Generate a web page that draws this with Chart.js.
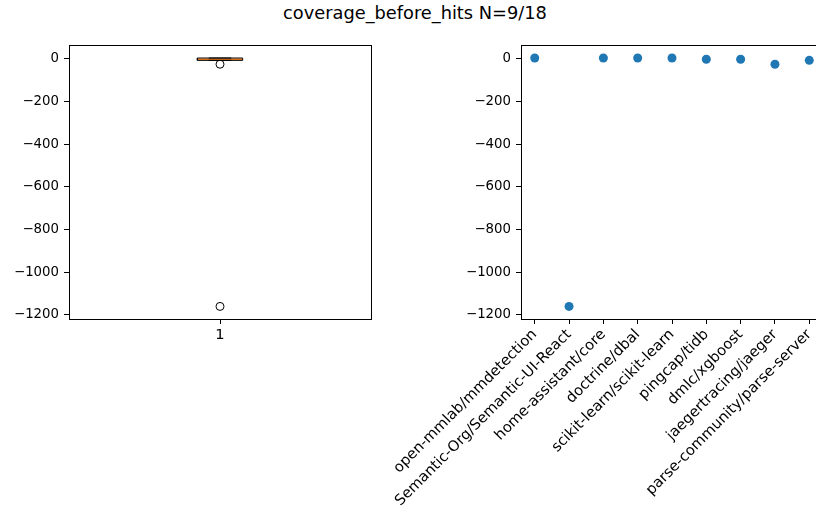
<!DOCTYPE html>
<html>
<head>
<meta charset="utf-8">
<script src="https://cdn.jsdelivr.net/npm/chart.js@4/dist/chart.umd.min.js"></script>
<style>
  html, body { margin: 0; padding: 0; background: #fff; width: 816px; height: 507px; overflow: hidden; }
  #title { position: absolute; left: 0; width: 830px; top: 4px; text-align: center;
           font-family: 'DejaVu Sans', sans-serif; font-size: 17.8px; line-height: 17.8px; color: #000; }
  #c1 { position: absolute; left: 0; top: 0; }
  #c2 { position: absolute; left: 360px; top: 0; }
</style>
</head>
<body>
<div id="title">coverage_before_hits N=9/18</div>
<canvas id="c1" width="400" height="507"></canvas>
<canvas id="c2" width="480" height="507"></canvas>
<script>
// ---- data ----
const repos = [
  'open-mmlab/mmdetection',
  'Semantic-Org/Semantic-UI-React',
  'home-assistant/core',
  'doctrine/dbal',
  'scikit-learn/scikit-learn',
  'pingcap/tidb',
  'dmlc/xgboost',
  'jaegertracing/jaeger',
  'parse-community/parse-server'
];
const values = [4, -1160, 4, 4, 4, -2, -2, -25, -7];
const yTicks = [0, -200, -400, -600, -800, -1000, -1200];
const boxTickLabels = ['1'];
const yMin = -1219, yMax = 65;

// ---- box statistics (matplotlib style) ----
function quantile(sorted, q) {
  const pos = (sorted.length - 1) * q;
  const lo = Math.floor(pos), hi = Math.ceil(pos);
  return sorted[lo] + (sorted[hi] - sorted[lo]) * (pos - lo);
}
const sorted = values.slice().sort((a, b) => a - b);
const q1 = quantile(sorted, 0.25), med = quantile(sorted, 0.5), q3 = quantile(sorted, 0.75);
const iqr = q3 - q1;
const loFence = q1 - 1.5 * iqr, hiFence = q3 + 1.5 * iqr;
const inside = sorted.filter(v => v >= loFence && v <= hiFence);
const wLo = Math.min(...inside), wHi = Math.max(...inside);
const fliers = sorted.filter(v => v < loFence || v > hiFence);
const bw = 0.15, cw = bw / 2, pos = 1;

Chart.defaults.font.family = "'DejaVu Sans', sans-serif";
Chart.defaults.font.size = 13.3;
Chart.defaults.color = '#000';

const framePlugin = {
  id: 'frame',
  afterDraw(chart) {
    const a = chart.chartArea, c = chart.ctx;
    c.save();
    c.strokeStyle = '#000';
    c.lineWidth = 1;
    c.strokeRect(Math.round(a.left) + 0.5, Math.round(a.top) + 0.5,
                 Math.round(a.right - a.left), Math.round(a.bottom - a.top));
    c.restore();
  }
};

function fmt(v) { return v < 0 ? '\u2212' + Math.abs(v) : String(v); }

function yScale(width) {
  return {
    type: 'linear', min: yMin, max: yMax,
    afterBuildTicks: s => { s.ticks = yTicks.map(v => ({ value: v })); },
    afterFit: s => { s.width = width; },
    ticks: { callback: v => fmt(v), padding: 5, color: '#000' },
    grid: { drawOnChartArea: false, drawTicks: true, tickLength: 5, tickColor: '#000', tickWidth: 1 },
    border: { display: true, color: '#000', width: 1 }
  };
}

const seg = (pts, color, w) => ({
  type: 'line', data: pts, borderColor: color, borderWidth: w,
  pointRadius: 0, fill: false, tension: 0
});

new Chart(document.getElementById('c1'), {
  type: 'scatter',
  data: {
    datasets: [
      seg([{x: pos - bw / 2, y: q1}, {x: pos + bw / 2, y: q1}, {x: pos + bw / 2, y: q3},
           {x: pos - bw / 2, y: q3}, {x: pos - bw / 2, y: q1}], '#000', 1),
      seg([{x: pos, y: q1}, {x: pos, y: wLo}], '#000', 1),
      seg([{x: pos, y: q3}, {x: pos, y: wHi}], '#000', 1),
      seg([{x: pos - cw / 2, y: wLo}, {x: pos + cw / 2, y: wLo}], '#000', 1),
      seg([{x: pos - cw / 2, y: wHi}, {x: pos + cw / 2, y: wHi}], '#000', 1),
      seg([{x: pos - bw / 2, y: med}, {x: pos + bw / 2, y: med}], '#ff7f0e', 1.5),
      { type: 'scatter', data: fliers.map(v => ({x: pos, y: v})), pointRadius: 4,
        pointBackgroundColor: 'rgba(0,0,0,0)', pointBorderColor: '#000', pointBorderWidth: 1 }
    ]
  },
  options: {
    responsive: false, animation: false,
    layout: { padding: { top: 45, right: 29, left: 0, bottom: 0 } },
    plugins: { legend: { display: false }, tooltip: { enabled: false } },
    scales: {
      x: {
        type: 'linear', min: 0.5, max: 1.5,
        afterBuildTicks: s => { s.ticks = [{ value: pos }]; },
        afterFit: s => { s.height = 188; s.paddingLeft = 0; s.paddingRight = 0; },
        ticks: { callback: (v, i) => boxTickLabels[i], padding: 2, maxRotation: 0, color: '#000',
                 font: { size: 14.7 } },
        grid: { drawOnChartArea: false, drawTicks: true, tickLength: 5, tickColor: '#000', tickWidth: 1 },
        border: { display: true, color: '#000', width: 1 }
      },
      y: yScale(69)
    }
  },
  plugins: [framePlugin]
});

new Chart(document.getElementById('c2'), {
  type: 'scatter',
  data: {
    datasets: [{
      data: values.map((v, i) => ({x: i, y: v})),
      pointRadius: 4.5, pointBackgroundColor: '#1f77b4', pointBorderColor: '#1f77b4', pointBorderWidth: 0
    }]
  },
  options: {
    responsive: false, animation: false,
    layout: { padding: { top: 45, right: 17, left: 0, bottom: 0 } },
    plugins: { legend: { display: false }, tooltip: { enabled: false } },
    scales: {
      x: {
        type: 'linear', min: -0.4, max: repos.length - 1 + 0.4,
        afterBuildTicks: s => { s.ticks = repos.map((r, i) => ({ value: i })); },
        afterFit: s => { s.height = 188; s.paddingLeft = 0; s.paddingRight = 0; },
        ticks: { callback: (v, i) => repos[i], padding: 2, minRotation: 45, maxRotation: 45, color: '#000',
                 font: { size: 14.7 } },
        grid: { drawOnChartArea: false, drawTicks: true, tickLength: 5, tickColor: '#000', tickWidth: 1 },
        border: { display: true, color: '#000', width: 1 }
      },
      y: yScale(161)
    }
  },
  plugins: [framePlugin]
});
</script>
</body>
</html>
